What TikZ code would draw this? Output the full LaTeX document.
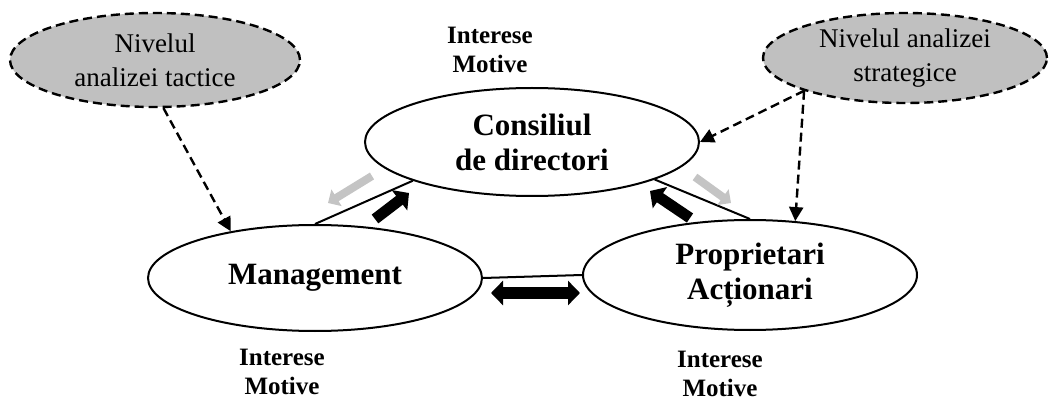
\documentclass[tikz,border=0pt]{standalone}
\usepackage{fontspec}
\setmainfont{Liberation Serif}
\usetikzlibrary{arrows.meta,shapes.geometric}
\definecolor{lvlgrey}{RGB}{192,192,192}
\definecolor{arrgrey}{RGB}{196,196,196}
\begin{document}
\begin{tikzpicture}[x=0.5pt,y=-0.5pt,
  bigell/.style={ellipse, draw, line width=1pt, inner sep=0pt, minimum width=167pt, minimum height=54pt, align=center, font=\fontsize{15.5}{17.5}\selectfont\bfseries},
  greyell/.style={ellipse, draw, dash pattern=on 4.5pt off 2.5pt, line width=1.2pt, fill=lvlgrey, inner sep=0pt, align=center, font=\fontsize{13.5}{17}\selectfont},
  note/.style={align=center, font=\fontsize{12.5}{14.5}\selectfont\bfseries},
  dashlink/.style={dash pattern=on 4.5pt off 2.5pt, line width=1.2pt, -{Triangle[length=7pt,width=7pt]}},
  link/.style={line width=1pt},
  blockarr/.style={line width=5.5pt, -{Triangle[length=6pt,width=12.5pt]}},
  greyarr/.style={arrgrey, line width=4pt, -{Triangle[length=5pt,width=9.5pt]}}]
\useasboundingbox (0,0) rectangle (1051,401);

\node[bigell] (cons) at (532,142){Consiliul\\de directori};
\node[bigell, minimum height=53pt] (mgmt) at (315,278){Management};
\node[bigell, minimum height=55pt] (prop) at (750,275){Proprietari\\Acționari};
\node[greyell, minimum width=145pt, minimum height=47pt] (tact) at (155,60){Nivelul\\analizei tactice};
\node[greyell, minimum width=142pt, minimum height=45pt] (strat) at (905,58){Nivelul analizei\\strategice};

\node[note] (ncons) at (490,50){Interese\\Motive};
\node[note] (nmgmt) at (282,372){Interese\\Motive};
\node[note] (nprop) at (720,374){Interese\\Motive};

\draw[link](cons.198) -- (mgmt.north);
\draw[link](cons.343) -- (prop.north);
\draw[link](mgmt.east) -- (prop.west);

\draw[dashlink](tact.-80) -- (mgmt.151);
\draw[dashlink](strat.198) -- (cons.east);
\draw[dashlink](strat.198) -- (prop.50);

% block arrows
\coordinate (a1) at (375,219);
\coordinate (b1) at (409,193);
\coordinate (a2) at (372,176);
\coordinate (b2) at (328,203);
\coordinate (a3) at (695,177);
\coordinate (b3) at (731,203);
\coordinate (a4) at (690,218);
\coordinate (b4) at (650,191);
\coordinate (a5) at (491,293);
\coordinate (b5) at (580,293);
\draw[blockarr](a1) -- (b1);
\draw[greyarr](a2) -- (b2);
\draw[greyarr](a3) -- (b3);
\draw[blockarr](a4) -- (b4);
\draw[line width=6pt, {Triangle[length=6pt,width=12pt]}-{Triangle[length=6pt,width=12pt]}](a5) -- (b5);

\end{tikzpicture}
\end{document}
